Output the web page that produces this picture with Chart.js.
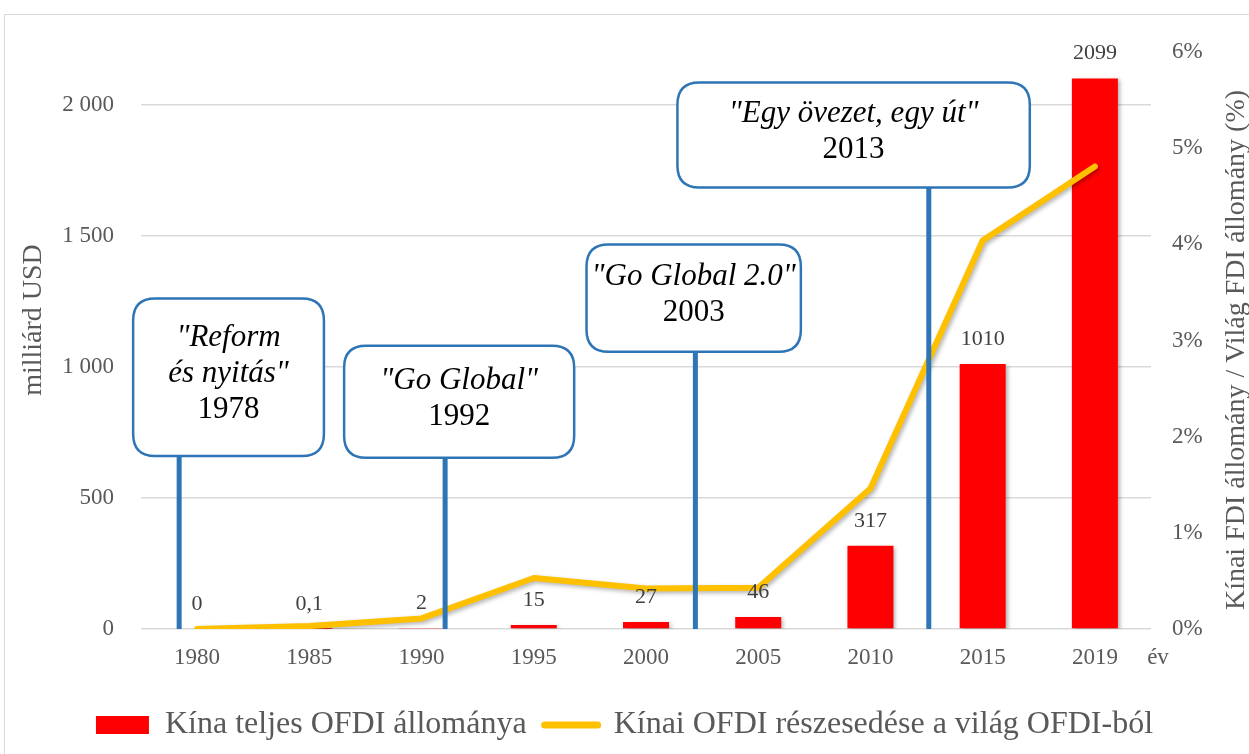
<!DOCTYPE html>
<html>
<head>
<meta charset="utf-8">
<script src="https://cdn.jsdelivr.net/npm/chart.js@4.4.1/dist/chart.umd.min.js"></script>
<style>
  body { margin: 0; background: #fff; overflow: hidden; }
  #frame { position: absolute; left: 4px; top: 14px; width: 1260px; height: 760px; border: 1.5px solid #d9d9d9; }
  #myChart { position: absolute; left: 0; top: 0; }
</style>
</head>
<body>
<div id="frame"></div>
<canvas id="myChart" width="1249" height="754"></canvas>
<script>
const years = ['1980', '1985', '1990', '1995', '2000', '2005', '2010', '2015', '2019'];
const ofdiStock = [0, 0.1, 2, 15, 27, 46, 317, 1010, 2099];   // milliárd USD
const worldShare = [0, 0.03, 0.11, 0.53, 0.42, 0.43, 1.46, 4.04, 4.81]; // %
const leftTicks = [0, 500, 1000, 1500, 2000];
const rightTicks = [0, 1, 2, 3, 4, 5, 6];
const leftTitle = 'milliárd USD';
const rightTitle = 'Kínai FDI állomány / Világ FDI állomány (%)';

// szövegdobozok (kategória-index és bal tengely szerinti helyzet)
const events = [
    { lines: [['"Reform', true], ['és nyitás"', true], ['1978', false]], at: -0.16, x0: -0.57, x1: 1.13, top: 1260, bottom: 660 },
    { lines: [['"Go Global"', true], ['1992', false]], at: 2.21, x0: 1.31, x1: 3.36, top: 1080, bottom: 653 },
    { lines: [['"Go Global 2.0"', true], ['2003', false]], at: 4.44, x0: 3.47, x1: 5.38, top: 1466, bottom: 1057 },
    { lines: [['"Egy övezet, egy út"', true], ['2013', false]], at: 6.52, x0: 4.28, x1: 7.42, top: 2084, bottom: 1683 }
];

const FONT = '"Liberation Serif", "Times New Roman", serif';
const RED = '#FF0000';
const ORANGE = '#FFC000';
const BLUE = '#2E75B6';
const GREY = '#595959';

function fmtHu(v) {
    return String(v).replace('.', ',');
}

const shadowPlugin = {
    id: 'shadow',
    beforeDatasetDraw(chart) {
        const ctx = chart.ctx;
        ctx.save();
        ctx.shadowColor = 'rgba(0,0,0,0.3)';
        ctx.shadowBlur = 4;
        ctx.shadowOffsetX = 2;
        ctx.shadowOffsetY = 2;
    },
    afterDatasetDraw(chart) {
        chart.ctx.restore();
    }
};

function roundRect(ctx, x, y, w, h, r) {
    ctx.beginPath();
    ctx.moveTo(x + r, y);
    ctx.lineTo(x + w - r, y);
    ctx.quadraticCurveTo(x + w, y, x + w, y + r);
    ctx.lineTo(x + w, y + h - r);
    ctx.quadraticCurveTo(x + w, y + h, x + w - r, y + h);
    ctx.lineTo(x + r, y + h);
    ctx.quadraticCurveTo(x, y + h, x, y + h - r);
    ctx.lineTo(x, y + r);
    ctx.quadraticCurveTo(x, y, x + r, y);
    ctx.closePath();
}

function vText(ctx, text, x, y) {
    ctx.save();
    ctx.translate(x, y);
    ctx.rotate(-Math.PI / 2);
    ctx.fillText(text, 0, 0);
    ctx.restore();
}

const extrasPlugin = {
    id: 'extras',
    afterDatasetsDraw(chart) {
        const ctx = chart.ctx;
        const xs = chart.scales.x;
        const ys = chart.scales.y;

        // értékcímkék
        ctx.save();
        ctx.fillStyle = '#404040';
        ctx.font = '22px ' + FONT;
        ctx.textAlign = 'center';
        ctx.textBaseline = 'middle';
        chart.getDatasetMeta(0).data.forEach((bar, i) => {
            ctx.fillText(fmtHu(ofdiStock[i]), bar.x, bar.y - 25);
        });
        ctx.restore();

        // eseménydobozok
        events.forEach(ev => {
            const lx = xs.getPixelForValue(ev.at);
            const bx0 = xs.getPixelForValue(ev.x0);
            const bx1 = xs.getPixelForValue(ev.x1);
            const by0 = ys.getPixelForValue(ev.top);
            const by1 = ys.getPixelForValue(ev.bottom);
            ctx.save();
            ctx.strokeStyle = BLUE;
            ctx.lineWidth = 5;
            ctx.beginPath();
            ctx.moveTo(lx, by1);
            ctx.lineTo(lx, ys.getPixelForValue(0));
            ctx.stroke();

            roundRect(ctx, bx0, by0, bx1 - bx0, by1 - by0, 22);
            ctx.fillStyle = '#fff';
            ctx.fill();
            ctx.lineWidth = 2.5;
            ctx.stroke();

            ctx.fillStyle = '#000';
            ctx.textAlign = 'center';
            ctx.textBaseline = 'middle';
            const lh = 36;
            const cy = (by0 + by1) / 2 - (ev.lines.length - 1) * lh / 2 - 3;
            ev.lines.forEach((ln, k) => {
                ctx.font = (ln[1] ? 'italic ' : '') + '31px ' + FONT;
                ctx.fillText(ln[0], (bx0 + bx1) / 2, cy + k * lh);
            });
            ctx.restore();
        });

        // "év" felirat és tengelycímek
        ctx.save();
        ctx.fillStyle = GREY;
        ctx.font = '23px ' + FONT;
        ctx.textAlign = 'center';
        ctx.textBaseline = 'middle';
        ctx.fillText('év', xs.right + 7, ys.getPixelForValue(0) + 29);
        ctx.font = '28px ' + FONT;
        vText(ctx, leftTitle, 34, 320);
        vText(ctx, rightTitle, 1237, 350);
        ctx.restore();
    }
};

const ctx = document.getElementById('myChart');
var mychart = new Chart(ctx, {
    data: {
        labels: years,
        datasets: [
            {
                type: 'bar',
                label: 'Kína teljes OFDI állománya',
                data: ofdiStock,
                yAxisID: 'y',
                backgroundColor: RED,
                borderWidth: 0,
                barPercentage: 0.41,
                categoryPercentage: 1,
                order: 1
            },
            {
                type: 'line',
                label: 'Kínai OFDI részesedése a világ OFDI-ból',
                data: worldShare,
                yAxisID: 'y2',
                borderColor: ORANGE,
                borderWidth: 6,
                borderCapStyle: 'round',
                borderJoinStyle: 'round',
                pointRadius: 0,
                tension: 0,
                order: 0
            }
        ]
    },
    options: {
        responsive: false,
        animation: false,
        layout: { padding: { top: 52, left: 0, right: 0, bottom: 3 } },
        plugins: {
            tooltip: { enabled: false },
            legend: {
                position: 'bottom',
                labels: {
                    usePointStyle: true,
                    pointStyleWidth: 53,
                    boxHeight: 18,
                    padding: 18,
                    color: GREY,
                    font: { family: FONT, size: 32 },
                    sort: (a, b) => a.datasetIndex - b.datasetIndex,
                    generateLabels: chart => chart.data.datasets.map((ds, i) => ({
                        text: ds.label,
                        fillStyle: i ? ORANGE : RED,
                        strokeStyle: i ? ORANGE : RED,
                        lineWidth: i ? 7 : 0,
                        lineCap: 'round',
                        pointStyle: i ? 'line' : 'rect',
                        fontColor: GREY,
                        hidden: false,
                        datasetIndex: i
                    }))
                }
            }
        },
        scales: {
            x: {
                grid: { display: false, drawTicks: false },
                border: { display: false },
                ticks: { color: GREY, font: { family: FONT, size: 23 }, padding: 15, maxRotation: 0 },
                afterFit: s => { s.height = 62; }
            },
            y: {
                position: 'left',
                min: 0,
                max: 2200,
                afterBuildTicks: s => { s.ticks = leftTicks.map(v => ({ value: v })); },
                ticks: {
                    color: GREY,
                    font: { family: FONT, size: 23 },
                    padding: 27,
                    callback: v => String(v).replace(/\B(?=(\d{3})+(?!\d))/g, ' ')
                },
                grid: { color: '#d9d9d9', lineWidth: 1.5, drawTicks: false },
                border: { display: false },
                afterFit: s => { s.width = 141; }
            },
            y2: {
                position: 'right',
                min: 0,
                max: 6,
                afterBuildTicks: s => { s.ticks = rightTicks.map(v => ({ value: v })); },
                ticks: {
                    color: GREY,
                    font: { family: FONT, size: 23 },
                    padding: 21,
                    callback: v => v + '%'
                },
                grid: { display: false, drawTicks: false },
                border: { display: false },
                afterFit: s => { s.width = 98; }
            }
        }
    },
    plugins: [shadowPlugin, extrasPlugin]
});
</script>
</body>
</html>
